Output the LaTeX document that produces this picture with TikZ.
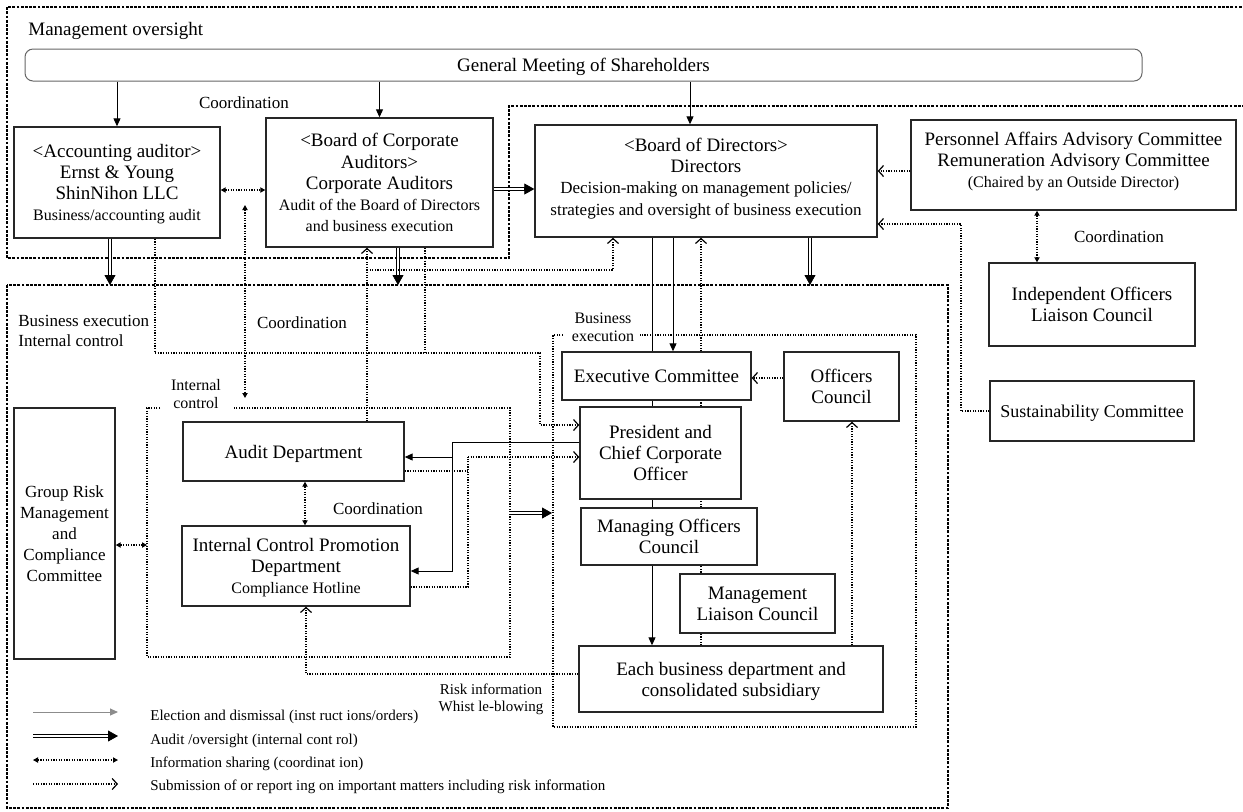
\documentclass[tikz,border=0pt]{standalone}
\usepackage{fontspec}
\setmainfont{Liberation Serif}
\usetikzlibrary{arrows.meta}
\pgfdeclarelayer{back}
\pgfsetlayers{back,main}
\newcommand{\bigtxt}{\fontsize{9.5}{10.6}\selectfont}
\newcommand{\midtxt}{\fontsize{8.5}{10}\selectfont}
\newcommand{\subtxt}{\fontsize{8}{9.2}\selectfont}
\newcommand{\legtxt}{\fontsize{7.5}{8.5}\selectfont}

\begin{document}
\begin{tikzpicture}[x=0.5pt,y=-0.5pt,
	box/.style={draw=black!85,fill=white,line width=0.7pt,align=center,inner sep=1pt,text depth=0pt,font=\bigtxt},
	lbl/.style={align=center,inner sep=0pt,text depth=0pt,font=\subtxt},
	zone/.style={line width=0.6pt,dash pattern=on 1.4pt off 0.7pt},
	dotline/.style={line width=0.6pt,dash pattern=on 0.6pt off 0.7pt},
	elect/.style={line width=0.5pt,-{Triangle[length=4pt,width=3.5pt]}},
	report/.style={dotline,-{Straight Barb[length=2.5pt,width=5.5pt,line width=0.6pt]}},
	share/.style={dotline,{Triangle[length=2.5pt,width=2.6pt]}-{Triangle[length=2.5pt,width=2.6pt]}},
	audit/.style={line width=2.2pt,-{Triangle[length=5pt,width=5.5pt,line width=0.4pt]},
		postaction={draw=white,line width=1.2pt,-,shorten >=5pt}}]
	
	\useasboundingbox (0,0) rectangle (1243,811);
	
	% Zones
	\draw[zone] (1250,7) -- (7,7) -- (7,258) -- (509,258) -- (509,106) -- (1250,106);
	\draw[zone] (7,285) rectangle (948,808);
	\draw[dotline] (160,408) -- (147,408) -- (147,657) -- (510,657) -- (510,408) -- (233,408);
	\draw[dotline] (563,335) -- (553,335) -- (553,727) -- (916,727) -- (916,335) -- (640,335);
	
	% Zone labels
	\node[anchor=west,inner sep=0pt,text depth=0pt,font=\bigtxt] (mot) at (28,29) {Management oversight};
	\node[anchor=west,align=left,inner sep=0pt,text depth=0pt,font=\midtxt] (bet) at (18,331) {Business execution\\Internal control};
	\node[lbl] (ict) at (196,394) {Internal\\control};
	\node[lbl] (bxt) at (603,327) {Business\\execution};
	
	% Boxes
	\node[box,rounded corners=4pt,draw=black!60,line width=0.5pt,minimum width=558.5pt,minimum height=16pt] (gms) at (583.5,65) {General Meeting of Shareholders};
	\node[box,minimum width=103pt,minimum height=55.5pt] (acct) at (117,182.5) {<Accounting auditor>\\Ernst \& Young\\ShinNihon LLC\\{\subtxt Business/accounting audit}};
	\node[box,minimum width=113.5pt,minimum height=64.5pt] (bca) at (379.5,182.5) {<Board of Corporate\\Auditors>\\Corporate Auditors\\{\subtxt Audit of the Board of Directors}\\{\subtxt and business execution}};
	\node[box,text depth=4.5pt,minimum width=171pt,minimum height=56pt] (bod) at (706,181) {<Board of Directors>\\Directors\\{\midtxt Decision-making on management policies/}\\{\midtxt strategies and oversight of business execution}};
	\node[box,text depth=5pt,minimum width=162.5pt,minimum height=45pt] (paac) at (1073.5,165) {Personnel Affairs Advisory Committee\\Remuneration Advisory Committee\\{\subtxt (Chaired by an Outside Director)}};
	\node[box,minimum width=103pt,minimum height=41.5pt] (iolc) at (1092,304.5) {Independent Officers\\Liaison Council};
	\node[box,font=\fontsize{9}{10.6}\selectfont,minimum width=102pt,minimum height=30pt] (sus) at (1092,411) {Sustainability Committee};
	\node[box,font=\fontsize{8.5}{10.5}\selectfont,minimum width=50.5pt,minimum height=125.5pt] (grc) at (64.5,533.5) {Group Risk\\Management\\and\\Compliance\\Committee};
	\node[box,minimum width=110.5pt,minimum height=29.5pt] (aud) at (293.5,451.5) {Audit Department};
	\node[box,minimum width=114pt,minimum height=40pt] (icpd) at (296,566) {Internal Control Promotion\\Department\\{\subtxt Compliance Hotline}};
	\node[box,minimum width=94.5pt,minimum height=24pt] (exec) at (656.5,376) {Executive Committee};
	\node[box,minimum width=80.5pt,minimum height=46pt] (pres) at (660.5,453) {President and\\Chief Corporate\\Officer};
	\node[box,minimum width=88pt,minimum height=28.5pt] (moc) at (669,536.5) {Managing Officers\\Council};
	\node[box,minimum width=57.5pt,minimum height=34.5pt] (offc) at (841.5,386.5) {Officers\\Council};
	\node[box,minimum width=77.5pt,minimum height=29.5pt] (mlc) at (757.5,603.5) {Management\\Liaison Council};
	\node[box,minimum width=152pt,minimum height=33pt] (ebd) at (731,679) {Each business department and\\consolidated subsidiary};
	
	% Connector labels
	\node[lbl,font=\midtxt] (coa) at (244,103) {Coordination};
	\node[lbl,font=\midtxt] (cob) at (302,323) {Coordination};
	\node[lbl,font=\midtxt] (coc) at (378,509) {Coordination};
	\node[lbl,font=\midtxt] (cod) at (1119,237) {Coordination};
	\node[lbl,font=\legtxt] (rit) at (491,698) {Risk information\\ Whist le-blowing};
	
	% Election and dismissal
	\coordinate (gbod) at (690,100);
	\draw[elect] (acct.north |- gms.south) -- (acct.north);
	\draw[elect] (bca.north |- gms.south) -- (bca.north);
	\draw[elect] (gms.south -| gbod) -- (bod.north -| gbod);
	\coordinate (el1) at (452,442);
	\coordinate (el2) at (452,457);
	\coordinate (el3) at (452,571);
	\coordinate (el4) at (673,0);
	\coordinate (el5) at (652,0);
	\draw[elect] (pres.west |- el1) -- (el1) -- (el3) -- (icpd.east |- el3);
	\draw[elect] (el2) -- (aud.east |- el2);
	\draw[elect] (bod.south -| el4) -- (exec.north -| el4);
	
	% Audit / oversight
	\coordinate (au1) at (0,189);
	\coordinate (befr) at (0,285);
	\coordinate (au2) at (110,0);
	\coordinate (au3) at (398,0);
	\coordinate (au4) at (810,0);
	\coordinate (icE) at (509,513);
	\coordinate (bxW) at (552,513);
	\draw[audit] (bca.east |- au1) -- (bod.west |- au1);
	\draw[audit] (acct.south -| au2) -- (au2 |- befr);
	\draw[audit] (bca.south -| au3) -- (au3 |- befr);
	\draw[audit] (bod.south -| au4) -- (au4 |- befr);
	\draw[audit] (icE) -- (bxW);
	
	% Information sharing
	\coordinate (co1) at (0,190);
	\coordinate (co2a) at (245,205);
	\coordinate (co2b) at (245,398);
	\coordinate (co3) at (0,545);
	\coordinate (icW) at (147,545);
	\coordinate (co4) at (305,0);
	\coordinate (co5) at (1037,0);
	\draw[share] (acct.east |- co1) -- (bca.west |- co1);
	\draw[share] (co2a) -- (co2b);
	\draw[share] (grc.east |- co3) -- (icW);
	\draw[share] (aud.south -| co4) -- (icpd.north -| co4);
	\draw[share] (paac.south -| co5) -- (iolc.north -| co5);
	
	% Submission / reporting
	\coordinate (rp1) at (155,353);
	\coordinate (rp2) at (425,353);
	\coordinate (rp3) at (540,425);
	\coordinate (rp4) at (367,270);
	\coordinate (rp5) at (613,270);
	\coordinate (rp6) at (0,378);
	\coordinate (rp7) at (852,0);
	\coordinate (rp8) at (0,171);
	\coordinate (rp9) at (961,224);
	\coordinate (rp10) at (468,457);
	\coordinate (rp11) at (468,471);
	\coordinate (rp12) at (468,587);
	\coordinate (rp13) at (306,674);
	\coordinate (rp14) at (701,0);
	\draw[report] (acct.south -| rp1) -- (rp1) -| (rp3) -- (pres.west |- rp3);
	\draw[dotline] (bca.south -| rp2) -- (rp2);
	\draw[report] (aud.north -| rp4) -- (bca.south -| rp4);
	\draw[report] (rp4) -- (rp5) -- (bod.south -| rp5);
	\draw[report] (offc.west |- rp6) -- (exec.east |- rp6);
	\draw[report] (ebd.north -| rp7) -- (offc.south -| rp7);
	\draw[report] (paac.west |- rp8) -- (bod.east |- rp8);
	\draw[report] (sus.west) -| (rp9) -- (bod.east |- rp9);
	\draw[dotline] (aud.east |- rp11) -- (rp11);
	\draw[dotline] (icpd.east |- rp12) -- (rp12) -- (rp10);
	\draw[report] (rp10) -- (pres.west |- rp10);
	\draw[report] (ebd.west |- rp13) -- (rp13) -- (icpd.south -| rp13);
	
	% Lines running behind the execution boxes
	\begin{pgfonlayer}{back}
		\draw[elect] (bod.south -| el5) -- (ebd.north -| el5);
		\draw[report] (ebd.north -| rp14) -- (bod.south -| rp14);
	\end{pgfonlayer}
	
	% Legend
	\coordinate (lg1a) at (33,712);
	\coordinate (lg1b) at (118,712);
	\coordinate (lg2a) at (33,736);
	\coordinate (lg2b) at (118,736);
	\coordinate (lg3a) at (33,760);
	\coordinate (lg3b) at (118,760);
	\coordinate (lg4a) at (33,784);
	\coordinate (lg4b) at (118,784);
	\draw[elect,draw=black!45] (lg1a) -- (lg1b);
	\draw[audit] (lg2a) -- (lg2b);
	\draw[share] (lg3a) -- (lg3b);
	\draw[report] (lg4a) -- (lg4b);
	\node[anchor=west,inner sep=0pt,text depth=0pt,font=\legtxt] (lg1) at (150,715) {Election and dismissal (inst ruct ions/orders)};
	\node[anchor=west,inner sep=0pt,text depth=0pt,font=\legtxt] (lg2) at (150,739) {Audit /oversight (internal cont rol)};
	\node[anchor=west,inner sep=0pt,text depth=0pt,font=\legtxt] (lg3) at (150,762) {Information sharing (coordinat ion)};
	\node[anchor=west,inner sep=0pt,text depth=0pt,font=\legtxt] (lg4) at (150,785) {Submission of or report ing on important matters including risk information};
	
\end{tikzpicture}
\end{document}
